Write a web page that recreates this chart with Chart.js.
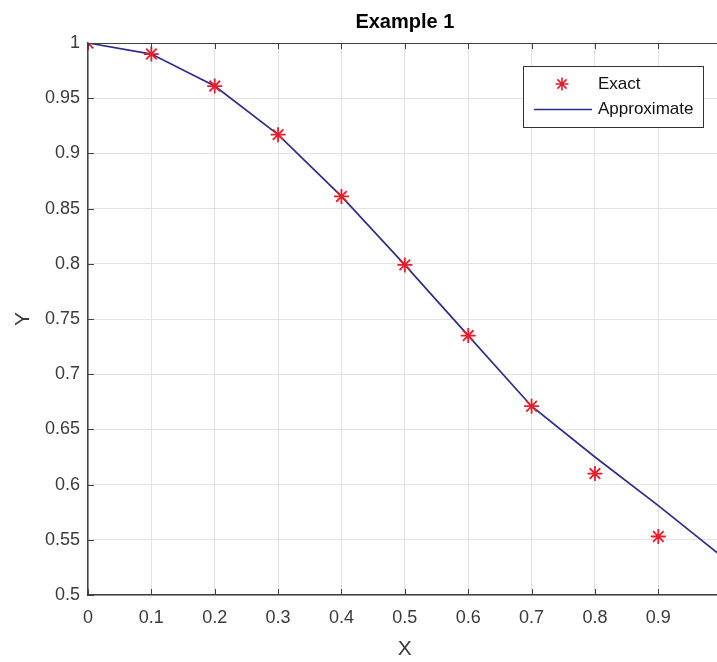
<!DOCTYPE html>
<html>
<head>
<meta charset="utf-8">
<script src="https://cdn.jsdelivr.net/npm/chart.js@4/dist/chart.umd.min.js"></script>
<style>
  html, body { margin: 0; padding: 0; background: #fff; overflow: hidden; }
  #wrap { width: 731px; height: 662px; position: relative; }
</style>
</head>
<body>
<div id="wrap"><canvas id="chart"></canvas></div>
<script>
// datos
const xValues = [0, 0.1, 0.2, 0.3, 0.4, 0.5, 0.6, 0.7, 0.8, 0.9, 1.0];
const exactY = [1.000, 0.990, 0.961, 0.917, 0.861, 0.799, 0.735, 0.671, 0.610, 0.553];
const approxY = [1.000, 0.990, 0.961, 0.917, 0.861, 0.799, 0.735, 0.671, 0.625, 0.581, 0.535];
const seriesLabels = ['Exact', 'Approximate'];
const xTicks = [0, 0.1, 0.2, 0.3, 0.4, 0.5, 0.6, 0.7, 0.8, 0.9, 1];
const yTicks = [0.5, 0.55, 0.6, 0.65, 0.7, 0.75, 0.8, 0.85, 0.9, 0.95, 1];

const red = '#e4202c';
const navy = '#2e2e8a';
const axisGray = '#404040';
const FONT = '"Liberation Sans", Arial, sans-serif';

const toPoints = ys => ys.map((y, i) => ({ x: xValues[i], y: y }));

// marcas de eje hacia dentro (estilo MATLAB) y borde superior
const inwardTicks = {
    id: 'inwardTicks',
    afterDatasetsDraw(chart) {
        const { ctx, chartArea: a, scales } = chart;
        ctx.save();
        ctx.strokeStyle = axisGray;
        ctx.lineWidth = 1;
        ctx.beginPath();
        ctx.moveTo(a.left, a.top + 0.5);
        ctx.lineTo(a.right, a.top + 0.5);
        xTicks.forEach(v => {
            const px = Math.round(scales.x.getPixelForValue(v)) + 0.5;
            ctx.moveTo(px, a.bottom); ctx.lineTo(px, a.bottom - 6);
            ctx.moveTo(px, a.top); ctx.lineTo(px, a.top + 6);
        });
        yTicks.forEach(v => {
            const py = Math.round(scales.y.getPixelForValue(v)) + 0.5;
            ctx.moveTo(a.left, py); ctx.lineTo(a.left + 6, py);
        });
        ctx.stroke();
        ctx.restore();
    }
};

// leyenda con caja dentro del area del grafico
const boxLegend = {
    id: 'boxLegend',
    afterDraw(chart) {
        const { ctx } = chart;
        const x0 = 523, y0 = 66, w = 180, h = 61;
        ctx.save();
        ctx.fillStyle = '#fff';
        ctx.fillRect(x0, y0, w, h);
        ctx.strokeStyle = '#333';
        ctx.lineWidth = 1;
        ctx.strokeRect(x0 + 0.5, y0 + 0.5, w, h);
        // estrella roja
        const sx = 562, sy = 84, r = 6.5;
        ctx.strokeStyle = red;
        ctx.lineWidth = 1.6;
        ctx.beginPath();
        for (let k = 0; k < 4; k++) {
            const ang = k * Math.PI / 4;
            ctx.moveTo(sx - r * Math.cos(ang), sy - r * Math.sin(ang));
            ctx.lineTo(sx + r * Math.cos(ang), sy + r * Math.sin(ang));
        }
        ctx.stroke();
        // linea azul
        ctx.strokeStyle = navy;
        ctx.beginPath();
        ctx.moveTo(534, 109.5);
        ctx.lineTo(592, 109.5);
        ctx.stroke();
        ctx.fillStyle = '#111';
        ctx.font = '17px ' + FONT;
        ctx.textBaseline = 'middle';
        ctx.fillText(chart.data.datasets[0].label, 598, 84);
        ctx.fillText(chart.data.datasets[1].label, 598, 109);
        ctx.restore();
    }
};

new Chart(document.getElementById('chart'), {
    type: 'scatter',
    data: {
        datasets: [{
            label: seriesLabels[0],
            data: toPoints(exactY),
            showLine: false,
            pointStyle: 'star',
            pointRadius: 7.5,
            pointBorderColor: red,
            pointBackgroundColor: red,
            pointBorderWidth: 1.8,
            order: 0
        }, {
            label: seriesLabels[1],
            data: toPoints(approxY),
            showLine: true,
            borderColor: navy,
            borderWidth: 1.7,
            pointRadius: 0,
            tension: 0,
            order: 1
        }]
    },
    options: {
        responsive: true,
        maintainAspectRatio: false,
        animation: false,
        layout: { padding: 0 },
        plugins: {
            legend: { display: false },
            tooltip: { enabled: false },
            title: {
                display: true,
                text: 'Example 1',
                fullSize: false,
                color: '#000',
                font: { family: FONT, size: 20, weight: 'bold' },
                padding: { top: 10, bottom: 9 }
            }
        },
        scales: {
            x: {
                type: 'linear',
                min: 0,
                max: 1,
                afterBuildTicks: s => { s.ticks = xTicks.map(v => ({ value: v })); },
                afterFit: s => { s.height = 67; s.paddingLeft = 0; s.paddingRight = 0; },
                grid: { color: '#e2e2e2', drawTicks: false },
                border: { color: axisGray, width: 1.5 },
                ticks: {
                    color: '#3a3a3a',
                    padding: 12,
                    maxRotation: 0,
                    font: { family: FONT, size: 18 },
                    callback: v => String(+v.toFixed(2))
                },
                title: {
                    display: true,
                    text: 'X',
                    color: '#3a3a3a',
                    font: { family: FONT, size: 21 },
                    padding: { top: 0, bottom: 0 }
                }
            },
            y: {
                type: 'linear',
                min: 0.5,
                max: 1,
                afterBuildTicks: s => { s.ticks = yTicks.map(v => ({ value: v })); },
                afterFit: s => { s.width = 88; },
                grid: { color: '#e2e2e2', drawTicks: false },
                border: { color: axisGray, width: 1.5 },
                ticks: {
                    color: '#3a3a3a',
                    padding: 8,
                    font: { family: FONT, size: 18 },
                    callback: v => String(+v.toFixed(2))
                },
                title: {
                    display: true,
                    text: 'Y',
                    color: '#3a3a3a',
                    font: { family: FONT, size: 21 },
                    padding: { top: 11, bottom: 0 }
                }
            }
        }
    },
    plugins: [inwardTicks, boxLegend]
});
</script>
</body>
</html>
